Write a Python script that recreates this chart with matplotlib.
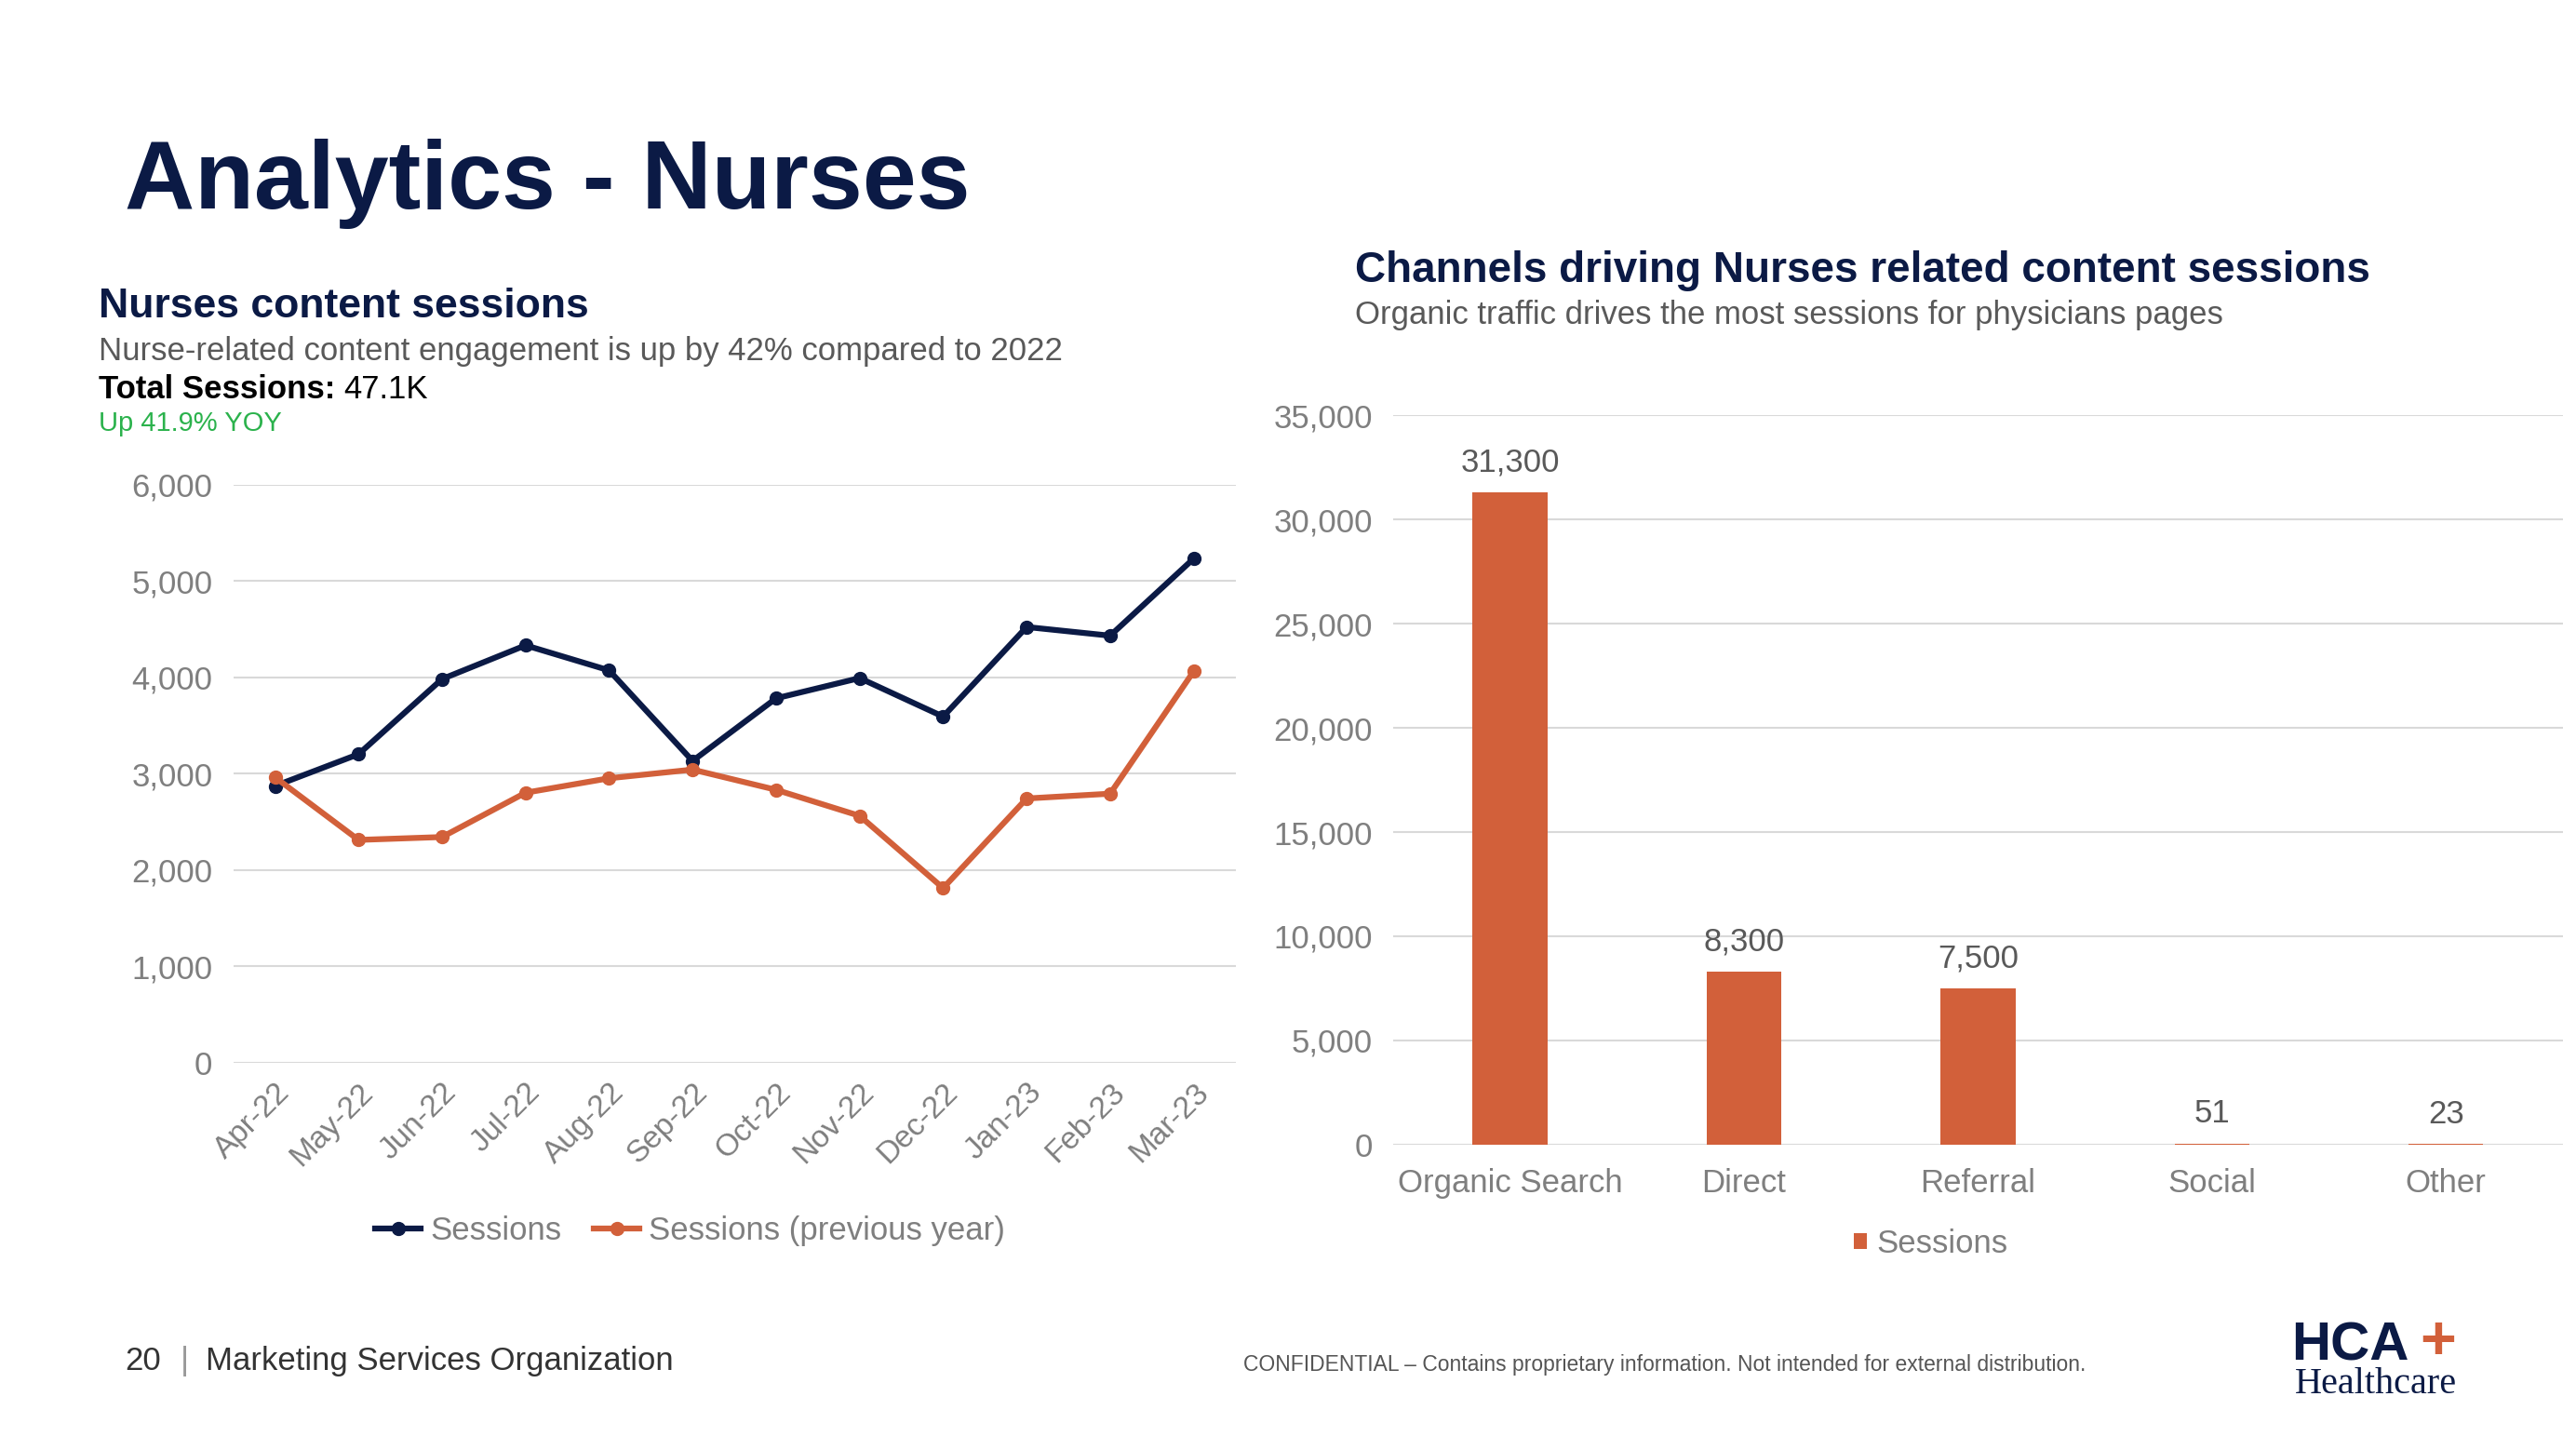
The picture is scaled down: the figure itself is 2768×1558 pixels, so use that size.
import matplotlib.pyplot as plt
import numpy as np

plt.rcParams['font.family'] = ['Liberation Sans', 'DejaVu Sans']

months = ['Apr-22', 'May-22', 'Jun-22', 'Jul-22', 'Aug-22', 'Sep-22', 'Oct-22',
          'Nov-22', 'Dec-22', 'Jan-23', 'Feb-23', 'Mar-23']
sessions = [2870, 3200, 3980, 4330, 4070, 3130, 3780, 3990, 3590, 4520, 4430, 5230]
sessions_prev = [2960, 2310, 2340, 2800, 2950, 3040, 2830, 2560, 1810, 2740, 2790, 4060]

channels = ['Organic Search', 'Direct', 'Referral', 'Social', 'Other']
channel_sessions = [31300, 8300, 7500, 51, 23]
channel_labels = ['31,300', '8,300', '7,500', '51', '23']

NAVY = '#0b1a45'
ORANGE = '#d2603a'
GREY = '#595959'
GRID = '#d9d9d9'
TICK = '#7f7f7f'

W, H = 1568, 883
fig = plt.figure(figsize=(27.68, 15.58), dpi=100)

def fx(x):
    return x / W

def fy(y):
    return 1 - y / H

def fmt(v, _=None):
    return f'{int(v):,}'

# titles and texts
fig.text(fx(76), fy(112), 'Analytics - Nurses', fontsize=75, fontweight='bold', color=NAVY, va='center')
fig.text(fx(60), fy(187), 'Nurses content sessions', fontsize=32, fontweight='bold', color=NAVY, va='center')
fig.text(fx(60), fy(214), 'Nurse-related content engagement is up by 42% compared to 2022', fontsize=25, color=GREY, va='center')
fig.text(fx(60), fy(237), 'Total Sessions:', fontsize=25, fontweight='bold', color='black', va='center')
fig.text(fx(209), fy(237), '47.1K', fontsize=25, color='black', va='center')
fig.text(fx(60), fy(258), 'Up 41.9% YOY', fontsize=21, color='#2bb24c', va='center')

fig.text(fx(825), fy(165), 'Channels driving Nurses related content sessions', fontsize=33, fontweight='bold', color=NAVY, va='center')
fig.text(fx(825), fy(192), 'Organic traffic drives the most sessions for physicians pages', fontsize=25, color=GREY, va='center')

# line chart
ax1 = fig.add_axes([fx(142), fy(647), fx(752 - 142), fy(295) - fy(647)])
x = np.arange(len(months))
ax1.plot(x, sessions, color=NAVY, lw=4.5, marker='o', ms=10, label='Sessions', zorder=3)
ax1.plot(x, sessions_prev, color=ORANGE, lw=4.5, marker='o', ms=10, label='Sessions (previous year)', zorder=3)
ax1.set_ylim(0, 6000)
ax1.set_xlim(-0.5, len(months) - 0.5)
ax1.set_yticks(range(0, 6001, 1000))
ax1.yaxis.set_major_formatter(plt.FuncFormatter(fmt))
ax1.set_xticks(x)
ax1.set_xticklabels(months, rotation=45, ha='right', rotation_mode='anchor')
ax1.grid(axis='y', color=GRID, lw=1.5)
ax1.set_axisbelow(True)
for s in ax1.spines.values():
    s.set_visible(False)
ax1.tick_params(axis='y', length=0, labelsize=25, colors=TICK, pad=16)
ax1.tick_params(axis='x', length=0, labelsize=24, colors=TICK, pad=12)
ax1.legend(loc='upper center', bbox_to_anchor=(0.456, -0.215), ncol=2, frameon=False,
           fontsize=25, labelcolor=TICK, handlelength=1.4, handletextpad=0.3, columnspacing=1.0)

# bar chart
ax2 = fig.add_axes([fx(848), fy(697), fx(1560 - 848), fy(253) - fy(697)])
xb = np.arange(len(channels))
bars = ax2.bar(xb, channel_sessions, width=0.32, color=ORANGE, label='Sessions', zorder=3)
for b, lab in zip(bars, channel_labels):
    ax2.text(b.get_x() + b.get_width() / 2, b.get_height() + 700, lab,
             ha='center', va='bottom', fontsize=25, color=GREY)
ax2.set_ylim(0, 35000)
ax2.set_xlim(-0.5, len(channels) - 0.5)
ax2.set_yticks(range(0, 35001, 5000))
ax2.yaxis.set_major_formatter(plt.FuncFormatter(fmt))
ax2.set_xticks(xb)
ax2.set_xticklabels(channels)
ax2.grid(axis='y', color=GRID, lw=1.5)
ax2.set_axisbelow(True)
for s in ax2.spines.values():
    s.set_visible(False)
ax2.tick_params(axis='y', length=0, labelsize=25, colors=TICK, pad=16)
ax2.tick_params(axis='x', length=0, labelsize=25, colors=TICK, pad=18)
ax2.legend(loc='upper center', bbox_to_anchor=(0.46, -0.075), frameon=False,
           fontsize=25, labelcolor=TICK, handlelength=0.4, handleheight=0.4, handletextpad=0.3)

# footer
fig.text(fx(76), fy(829), '20', fontsize=25, color='#333333', va='center')
fig.text(fx(110), fy(829), '|', fontsize=25, color='#999999', va='center')
fig.text(fx(125), fy(829), 'Marketing Services Organization', fontsize=25, color='#333333', va='center')
fig.text(fx(757), fy(831), 'CONFIDENTIAL \u2013 Contains proprietary information. Not intended for external distribution.',
         fontsize=16.5, color='#555555', va='center')
fig.text(fx(1395), fy(820), 'HCA', fontsize=42, fontweight='bold', color=NAVY, va='center')
fig.text(fx(1473), fy(818), '+', fontsize=48, fontweight='bold', color=ORANGE, va='center')
fig.text(fx(1397), fy(843), 'Healthcare', fontsize=29, family='Liberation Serif', color=NAVY, va='center')

fig.savefig('out.png', dpi=100, facecolor='white')
